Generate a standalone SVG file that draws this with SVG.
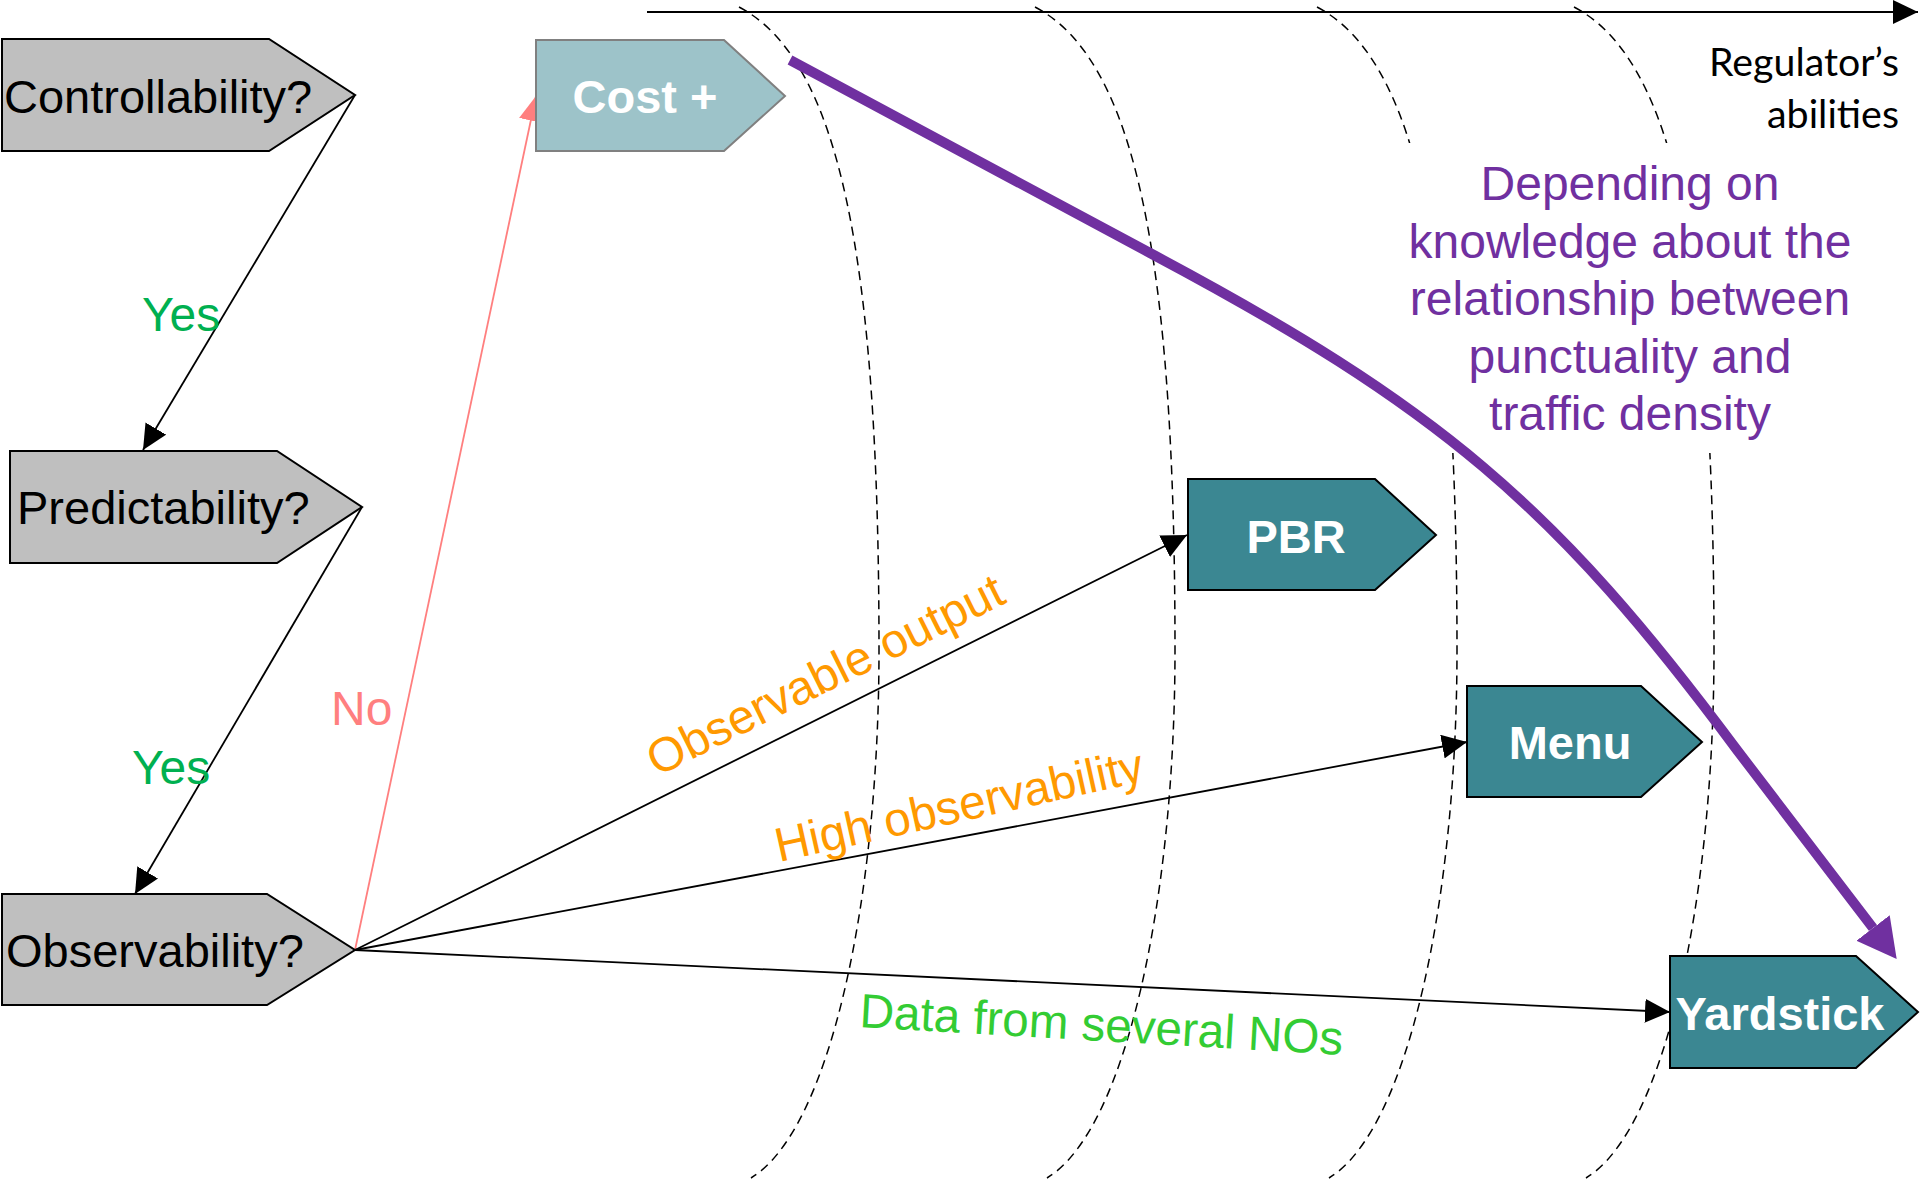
<svg xmlns="http://www.w3.org/2000/svg" width="1920" height="1181" viewBox="0 0 1920 1181">
<style>
.gray{fill:#BFBFBF;stroke:#000;stroke-width:2}
.teal{fill:#3B8792;stroke:#000;stroke-width:2}
.light{fill:#9DC3C9;stroke:#808080;stroke-width:2}
.qlab{font-family:"Liberation Sans",Arial,sans-serif;font-size:47px;fill:#000}
.blab{font-family:"Liberation Sans",Arial,sans-serif;font-size:47px;font-weight:bold;fill:#fff;text-anchor:middle}
.elab{font-family:"Liberation Sans",Arial,sans-serif;font-size:48px}
.conn{fill:none;stroke:#000;stroke-width:1.8;marker-end:url(#ah)}
.dash{fill:none;stroke:#000;stroke-width:1.5;stroke-dasharray:9 6}
.purple{font-family:"Liberation Sans",Arial,sans-serif;font-size:48px;fill:#7030A0;text-anchor:middle}
.reg{font-family:Lato,"Open Sans",sans-serif;font-size:38px;fill:#000;text-anchor:end}
</style>
<defs>
<marker id="ah" markerUnits="userSpaceOnUse" markerWidth="26" markerHeight="24" refX="25" refY="12" orient="auto">
<path d="M0,0 L25,12 L0,24 z" fill="#000"/>
</marker>
<marker id="ahr" markerUnits="userSpaceOnUse" markerWidth="26" markerHeight="24" refX="25" refY="12" orient="auto">
<path d="M0,0 L25,12 L0,24 z" fill="#FF7F7F"/>
</marker>
<marker id="ahp" markerUnits="userSpaceOnUse" markerWidth="40" markerHeight="42" refX="0" refY="21" orient="auto">
<path d="M0,0 L39,21 L0,42 z" fill="#7030A0"/>
</marker>
<path id="arc" d="M739,7 C840,60 879,260 879,650 C879,900 830,1130 751,1178"/>
<clipPath id="gap" clipPathUnits="userSpaceOnUse">
<rect x="-2000" y="-20" width="6000" height="163"/>
<rect x="-2000" y="453" width="6000" height="800"/>
</clipPath>
</defs>
<rect width="1920" height="1181" fill="#fff"/>
<g id="ability-bands">
<use href="#arc" class="dash"/>
<use href="#arc" class="dash" transform="translate(296,0)"/>
<use href="#arc" class="dash" transform="translate(578,0)" clip-path="url(#gap)"/>
<use href="#arc" class="dash" transform="translate(835,0)" clip-path="url(#gap)"/>
</g>
<g id="axis">
<line x1="647" y1="12" x2="1918" y2="12" stroke="#000" stroke-width="2" marker-end="url(#ah)"/>
<text class="reg" x="1899" y="76" textLength="190" lengthAdjust="spacingAndGlyphs">Regulator’s</text>
<text class="reg" x="1899" y="128" textLength="132" lengthAdjust="spacingAndGlyphs">abilities</text>
</g>
<g id="connectors">
<line class="conn" x1="355" y1="95" x2="143" y2="450"/>
<line class="conn" x1="362" y1="507" x2="135" y2="894"/>
<line x1="355" y1="950" x2="536" y2="96" stroke="#FF7F7F" stroke-width="1.8" marker-end="url(#ahr)"/>
<line class="conn" x1="355" y1="950" x2="1187" y2="535"/>
<line class="conn" x1="355" y1="950" x2="1467" y2="742"/>
<line class="conn" x1="355" y1="950" x2="1670" y2="1012"/>
<text class="elab" x="142" y="331" fill="#00B050">Yes</text>
<text class="elab" x="132" y="784" fill="#00B050">Yes</text>
<text class="elab" x="331" y="725" fill="#FF7F7F">No</text>
<text class="elab" fill="#FF9900" transform="translate(657,777) rotate(-26.5)" textLength="392" lengthAdjust="spacingAndGlyphs">Observable output</text>
<text class="elab" fill="#FF9900" transform="translate(779,862) rotate(-12.5)" textLength="376" lengthAdjust="spacingAndGlyphs">High observability</text>
<text class="elab" fill="#33CC33" transform="translate(859,1027) rotate(3.3)" textLength="484" lengthAdjust="spacingAndGlyphs">Data from several NOs</text>
</g>
<g id="controllability">
<polygon class="gray" points="2,39 269,39 355,95 269,151 2,151"/>
<text class="qlab" x="4" y="113">Controllability?</text>
</g>
<g id="predictability">
<polygon class="gray" points="10,451 277,451 362,507 277,563 10,563"/>
<text class="qlab" x="17" y="524">Predictability?</text>
</g>
<g id="observability">
<polygon class="gray" points="2,894 267,894 355,950 267,1005 2,1005"/>
<text class="qlab" x="6" y="967">Observability?</text>
</g>
<g id="cost-plus">
<polygon class="light" points="536,40 724,40 785,96 724,151 536,151"/>
<text class="blab" x="645" y="113">Cost +</text>
</g>
<g id="pbr">
<polygon class="teal" points="1188,479 1375,479 1436,535 1375,590 1188,590"/>
<text class="blab" x="1296" y="553">PBR</text>
</g>
<g id="menu">
<polygon class="teal" points="1467,686 1641,686 1702,742 1641,797 1467,797"/>
<text class="blab" x="1570" y="759">Menu</text>
</g>
<g id="yardstick">
<polygon class="teal" points="1670,956 1856,956 1918,1012 1856,1068 1670,1068"/>
<text class="blab" x="1780" y="1030">Yardstick</text>
</g>
<g id="knowledge-arrow">
<path d="M790,60 L1150,253 C1438,406 1555,505 1737,750 L1873,928" fill="none" stroke="#7030A0" stroke-width="10" marker-end="url(#ahp)"/>
<text class="purple" x="1630" y="200">Depending on</text>
<text class="purple" x="1630" y="258">knowledge about the</text>
<text class="purple" x="1630" y="315">relationship between</text>
<text class="purple" x="1630" y="373">punctuality and</text>
<text class="purple" x="1630" y="430">traffic density</text>
</g>
</svg>
